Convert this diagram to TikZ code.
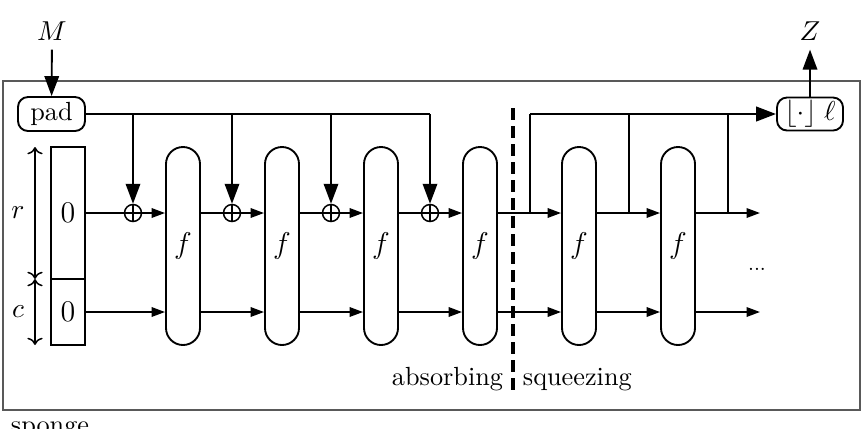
\documentclass[tikz,border=0pt]{standalone}
\usetikzlibrary{arrows.meta}
\begin{document}
\begin{tikzpicture}[x=0.4pt,y=-0.4pt, line width=0.75pt,
  font=\fontsize{10.5}{12}\selectfont,
  big/.style={-{Triangle[length=8pt,width=5.8pt]}},
  small/.style={-{Triangle[length=5.4pt,width=3.8pt]}},
  bus/.style={line width=1.05pt},
  fbox/.style={draw, rounded corners=6.8pt, minimum width=13.6pt, minimum height=79.2pt, inner sep=0pt, font=\fontsize{12.5}{14}\selectfont},
  rbox/.style={draw, rounded corners=4pt, inner sep=0pt},
  xorc/.style={draw, circle, minimum size=6.8pt, inner sep=0pt, line width=0.6pt},
  statebox/.style={draw, minimum width=13.6pt, inner sep=0pt, font=\fontsize{11.5}{13}\selectfont},
  frame/.style={draw=black!65, line width=0.5pt},
  dashline/.style={line width=1.3pt, dash pattern=on 4.6pt off 2.6pt},
  dim/.style={{To}-{To}, line width=0.6pt}]
\useasboundingbox (0,0) rectangle (864,428);
% frame
\draw[frame] (3,81) rectangle (860,410);
\node[anchor=base west, inner sep=0pt] (sponge) at (10,433) {sponge};
% input / output
\node (M) at (52,31) {$M$};
\node[rbox, minimum width=26.8pt, minimum height=13.6pt] (pad) at (51.5,114) {pad};
\node (Z) at (810,31) {$Z$};
\node[rbox, minimum width=26.4pt, minimum height=13.2pt] (out) at (810,114) {$\lfloor\cdot\rfloor\;\ell$};
\draw[big] (M) -- (pad);
\draw[big] (out) -- (Z);
% state
\node[statebox, minimum height=52.8pt] (sr) at (68,213) {$0$};
\node[statebox, minimum height=26.4pt] (sc) at (68,312) {$0$};
\coordinate (da) at (35,147);
\coordinate (db) at (35,279);
\coordinate (dc) at (35,345);
\draw[dim] (da) -- (db);
\draw[dim] (db) -- (dc);
\node (r) at (18,213) {$r$};
\node (c) at (18,312) {$c$};
% f boxes
\foreach \i/\x in {1/183,2/282,3/381,4/480,5/579,6/678}
  \node[fbox] (f\i) at (\x,246) {$f$};
% xors
\foreach \i/\x in {1/133,2/232,3/331,4/430}{
  \node[xorc] (x\i) at (\x,213) {};
  \draw[line width=0.6pt] (x\i.north) -- (x\i.south) (x\i.west) -- (x\i.east);
  \draw[big] (x\i |- pad) -- (x\i.north);
}
% bus from pad
\draw[bus] (pad.east) -- (x4 |- pad);
% absorbing rows
\draw (sr) -- (x1);
\draw[small] (x1) -- (f1.west |- x1);
\draw (f1.east |- x2) -- (x2);
\draw[small] (x2) -- (f2.west |- x2);
\draw (f2.east |- x3) -- (x3);
\draw[small] (x3) -- (f3.west |- x3);
\draw (f3.east |- x4) -- (x4);
\draw[small] (x4) -- (f4.west |- x4);
\draw[small] (sc) -- (f1.west |- sc);
\draw[small] (f1.east |- sc) -- (f2.west |- sc);
\draw[small] (f2.east |- sc) -- (f3.west |- sc);
\draw[small] (f3.east |- sc) -- (f4.west |- sc);
\draw[small] (f4.east |- sc) -- (f5.west |- sc);
\draw[small] (f5.east |- sc) -- (f6.west |- sc);
\coordinate (e2) at (760,312);
\draw[small] (f6.east |- sc) -- (e2);
% squeezing rows
\coordinate (s1) at (530,213);
\coordinate (s2) at (629,213);
\coordinate (s3) at (728,213);
\coordinate (e1) at (760,213);
\draw[small] (f4.east |- sr) -- (f5.west |- sr);
\draw[small] (f5.east |- sr) -- (f6.west |- sr);
\draw[small] (f6.east |- sr) -- (e1);
\draw (s1) -- (s1 |- out);
\draw (s2) -- (s2 |- out);
\draw (s3) -- (s3 |- out);
\draw[bus, big] (s1 |- out) -- (out.west);
\node[font=\footnotesize, anchor=base] (dots) at (757,270) {...};
% separator
\coordinate (d1) at (513,108);
\coordinate (d2) at (513,395);
\draw[dashline] (d1) -- (d2);
\node[anchor=base east, inner sep=0pt] (abs) at (504,385) {absorbing};
\node[anchor=base west, inner sep=0pt] (sq) at (522,385) {squeezing};
\end{tikzpicture}
\end{document}
